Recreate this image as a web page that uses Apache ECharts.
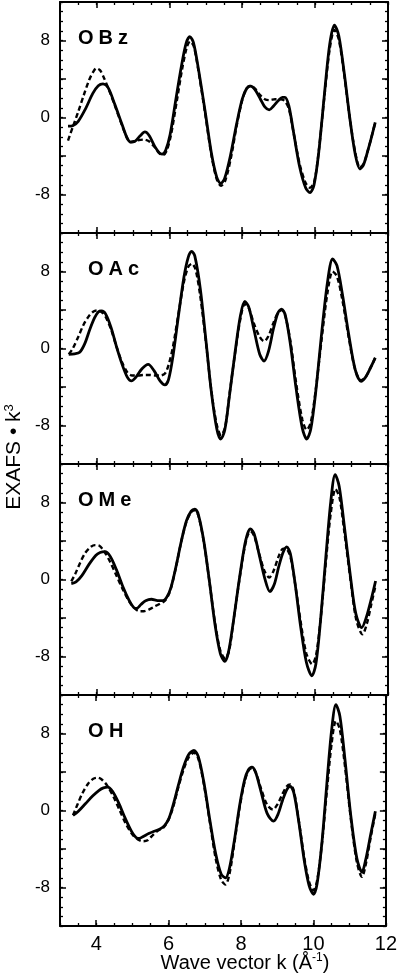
<!DOCTYPE html>
<html>
<head>
<meta charset="utf-8">
<script src="https://cdn.jsdelivr.net/npm/echarts@6.0.0/dist/echarts.min.js"></script>
<style>
html, body { margin: 0; padding: 0; background: #fff; }
#chart { width: 400px; height: 974px; }
</style>
</head>
<body>
<div id="chart"></div>
<script>
// labels of the four panels, top to bottom
const panelNames = ['OBz', 'OAc', 'OMe', 'O H']
const xTickLabels = [4, 6, 8, 10, 12]
const xMajorTicks = [4, 6, 8, 10]
const yTickLabels = [-8, 0, 8]

// [k, EXAFS*k^3]  solid = measured, dashed = fit
const obzExp = [[3.22,-0.9],[3.35,-0.85],[3.5,-0.4],[3.7,0.9],[3.9,2.5],[4.05,3.3],[4.18,3.5],[4.32,3.1],[4.5,1.4],[4.7,-0.7],[4.85,-2.2],[4.94,-2.55],[5.05,-2.5],[5.2,-1.9],[5.33,-1.5],[5.45,-1.9],[5.6,-3.0],[5.72,-3.65],[5.8,-3.8],[5.9,-3.4],[6.02,-1.8],[6.18,1.9],[6.33,5.3],[6.46,7.7],[6.56,8.4],[6.66,7.8],[6.8,5.0],[6.98,0.7],[7.15,-3.6],[7.3,-6.2],[7.41,-6.85],[7.52,-6.3],[7.68,-3.9],[7.85,-0.6],[8.0,1.9],[8.12,3.0],[8.23,3.25],[8.35,2.9],[8.5,1.9],[8.62,1.1],[8.74,0.8],[8.86,1.2],[9.0,1.8],[9.1,2.1],[9.17,2.1],[9.28,1.2],[9.42,-1.8],[9.58,-5.2],[9.74,-7.3],[9.86,-7.8],[9.97,-7.0],[10.1,-3.6],[10.25,2.2],[10.4,7.6],[10.53,9.6],[10.65,8.5],[10.8,4.6],[10.95,0],[11.1,-3.8],[11.23,-5.35],[11.33,-4.9],[11.45,-3.4],[11.55,-2.0],[11.65,-0.5]]
const obzFit = [[3.22,-2.4],[3.35,-1.0],[3.5,0.6],[3.65,2.3],[3.8,3.9],[3.92,4.8],[4.0,5.1],[4.1,4.9],[4.22,4.0],[4.35,2.8],[4.5,1.3],[4.7,-0.8],[4.85,-2.2],[4.94,-2.55],[5.1,-2.4],[5.3,-2.3],[5.45,-2.5],[5.6,-3.1],[5.72,-3.7],[5.82,-3.9],[5.92,-3.5],[6.04,-1.9],[6.2,1.6],[6.35,5.0],[6.48,7.3],[6.57,7.9],[6.67,7.4],[6.8,4.8],[6.98,0.5],[7.15,-3.8],[7.3,-6.4],[7.42,-7.1],[7.54,-6.5],[7.7,-4.0],[7.85,-0.8],[8.0,1.8],[8.12,3.0],[8.23,3.3],[8.35,3.0],[8.5,2.3],[8.62,1.9],[8.74,1.8],[8.9,1.9],[9.05,1.9],[9.17,1.7],[9.28,0.9],[9.42,-1.8],[9.58,-4.9],[9.74,-6.8],[9.86,-7.3],[9.98,-6.6],[10.1,-3.5],[10.25,2.0],[10.4,7.1],[10.53,9.1],[10.65,8.1],[10.8,4.4],[10.95,0],[11.1,-3.6],[11.23,-5.2],[11.33,-4.8],[11.45,-3.4],[11.55,-2.0],[11.65,-0.5]]

const oacExp = [[3.24,-0.6],[3.4,-0.55],[3.54,-0.4],[3.68,0.5],[3.82,2.0],[3.95,3.2],[4.05,3.8],[4.14,3.9],[4.25,3.6],[4.4,2.2],[4.55,0.2],[4.7,-1.6],[4.85,-3.0],[4.96,-3.37],[5.08,-3.0],[5.25,-2.1],[5.42,-1.65],[5.58,-2.3],[5.75,-3.4],[5.88,-3.78],[5.98,-3.2],[6.1,-0.8],[6.25,3.4],[6.4,7.4],[6.52,9.5],[6.61,10.1],[6.7,9.6],[6.85,6.2],[7.0,1.0],[7.15,-4.4],[7.3,-8.3],[7.41,-9.4],[7.52,-8.5],[7.65,-4.9],[7.8,-0.5],[7.95,3.4],[8.07,4.9],[8.18,4.3],[8.32,2.0],[8.48,-0.6],[8.6,-1.3],[8.72,-0.3],[8.86,2.1],[8.98,3.7],[9.08,4.1],[9.18,3.5],[9.32,0.5],[9.48,-4.2],[9.65,-8.3],[9.77,-9.4],[9.88,-8.4],[10.02,-4.4],[10.18,1.6],[10.34,6.9],[10.48,9.3],[10.6,8.6],[10.75,5.6],[10.92,1.5],[11.1,-2.2],[11.26,-3.4],[11.38,-3.0],[11.52,-2.0],[11.65,-0.97]]
const oacFit = [[3.24,-0.6],[3.35,0.0],[3.5,1.2],[3.65,2.5],[3.8,3.4],[3.92,3.85],[4.02,3.95],[4.14,3.8],[4.25,3.3],[4.4,2.0],[4.55,0.2],[4.7,-1.4],[4.85,-2.5],[4.98,-2.8],[5.15,-2.8],[5.3,-2.75],[5.45,-2.75],[5.6,-2.8],[5.75,-2.8],[5.88,-2.6],[5.98,-1.7],[6.1,0.2],[6.25,3.6],[6.4,6.9],[6.52,8.5],[6.62,8.8],[6.72,8.2],[6.85,5.4],[7.0,0.8],[7.15,-4.3],[7.3,-7.9],[7.42,-9.0],[7.53,-8.2],[7.65,-4.8],[7.8,-0.6],[7.95,3.1],[8.07,4.6],[8.18,4.2],[8.32,2.6],[8.48,1.2],[8.6,0.75],[8.72,1.3],[8.86,2.7],[8.98,3.7],[9.08,4.0],[9.18,3.4],[9.32,0.8],[9.48,-3.6],[9.65,-7.4],[9.77,-8.45],[9.88,-7.7],[10.02,-4.2],[10.18,1.0],[10.34,5.8],[10.48,8.0],[10.6,7.5],[10.75,5.0],[10.92,1.2],[11.1,-2.2],[11.26,-3.3],[11.38,-3.0],[11.52,-2.0],[11.65,-0.97]]

const omeExp = [[3.31,-0.42],[3.44,-0.25],[3.6,0.4],[3.8,1.6],[3.98,2.5],[4.1,2.8],[4.23,2.9],[4.38,2.4],[4.55,1.0],[4.72,-0.7],[4.9,-2.2],[5.02,-2.9],[5.1,-3.0],[5.22,-2.6],[5.35,-2.2],[5.51,-2.05],[5.68,-2.2],[5.82,-2.2],[5.92,-1.9],[6.04,-0.9],[6.18,1.3],[6.33,4.0],[6.47,6.1],[6.6,7.1],[6.7,7.3],[6.8,6.7],[6.95,3.9],[7.1,-0.2],[7.25,-4.6],[7.4,-7.7],[7.52,-8.5],[7.62,-7.6],[7.76,-4.3],[7.9,-0.5],[8.05,3.2],[8.15,4.8],[8.23,5.25],[8.33,4.7],[8.47,2.5],[8.62,0.1],[8.76,-1.25],[8.88,-0.5],[9.0,1.3],[9.12,2.8],[9.22,3.4],[9.32,2.7],[9.45,-0.4],[9.6,-4.8],[9.76,-8.6],[9.91,-10.0],[10.02,-8.8],[10.15,-4.2],[10.3,2.6],[10.43,8.1],[10.55,10.9],[10.66,9.7],[10.8,5.6],[10.97,0.3],[11.12,-3.6],[11.28,-5.0],[11.4,-4.0],[11.53,-2.2],[11.66,-0.15]]
const omeFit = [[3.31,-0.2],[3.42,0.6],[3.56,1.8],[3.7,2.8],[3.85,3.4],[3.96,3.57],[4.08,3.5],[4.2,3.0],[4.38,1.8],[4.55,0.4],[4.72,-1.0],[4.9,-2.3],[5.05,-3.0],[5.18,-3.3],[5.3,-3.3],[5.45,-3.1],[5.6,-2.8],[5.75,-2.5],[5.88,-2.2],[5.98,-1.6],[6.08,-0.4],[6.2,1.6],[6.33,4.0],[6.47,6.0],[6.6,7.0],[6.7,7.2],[6.8,6.6],[6.95,3.8],[7.1,-0.2],[7.25,-4.4],[7.4,-7.4],[7.53,-8.2],[7.64,-7.4],[7.76,-4.3],[7.9,-0.6],[8.05,3.0],[8.15,4.6],[8.23,5.0],[8.33,4.5],[8.47,2.6],[8.62,0.8],[8.74,0.2],[8.86,0.9],[9.0,2.4],[9.12,3.2],[9.2,3.2],[9.32,2.4],[9.45,-0.4],[9.6,-4.3],[9.76,-7.7],[9.92,-8.8],[10.03,-7.8],[10.16,-3.8],[10.3,2.0],[10.43,6.9],[10.56,9.4],[10.67,8.5],[10.8,5.0],[10.97,0.0],[11.13,-4.2],[11.3,-5.7],[11.42,-4.6],[11.54,-2.6],[11.66,-0.6]]

const ohExp = [[3.36,-0.5],[3.5,-0.1],[3.7,0.7],[3.9,1.5],[4.08,2.1],[4.2,2.35],[4.32,2.43],[4.45,2.0],[4.62,0.8],[4.8,-0.8],[4.98,-2.2],[5.1,-2.8],[5.19,-2.9],[5.3,-2.7],[5.45,-2.4],[5.6,-2.15],[5.75,-1.95],[5.88,-1.6],[6.0,-0.9],[6.12,0.5],[6.26,2.5],[6.4,4.4],[6.55,5.8],[6.7,6.25],[6.82,5.6],[6.97,3.0],[7.13,-0.8],[7.3,-4.5],[7.45,-6.6],[7.57,-7.0],[7.68,-6.0],[7.82,-3.0],[7.96,0.5],[8.1,3.2],[8.2,4.2],[8.3,4.5],[8.4,4.0],[8.55,2.0],[8.72,-0.3],[8.9,-1.1],[9.02,-0.4],[9.15,1.1],[9.27,2.2],[9.36,2.5],[9.46,1.8],[9.6,-1.3],[9.75,-5.3],[9.88,-7.8],[10.0,-8.7],[10.1,-7.6],[10.23,-3.5],[10.37,2.8],[10.5,8.3],[10.62,11.0],[10.73,9.8],[10.87,5.3],[11.03,-0.5],[11.2,-5.0],[11.34,-6.4],[11.45,-5.0],[11.58,-2.5],[11.71,-0.07]]
const ohFit = [[3.36,-0.5],[3.48,0.6],[3.62,1.8],[3.78,2.8],[3.92,3.3],[4.04,3.4],[4.16,3.2],[4.3,2.6],[4.48,1.4],[4.65,0.0],[4.82,-1.4],[5.0,-2.5],[5.15,-3.0],[5.3,-3.2],[5.42,-3.1],[5.55,-2.6],[5.7,-2.1],[5.85,-1.8],[5.98,-1.1],[6.12,0.3],[6.26,2.3],[6.4,4.1],[6.55,5.5],[6.7,6.0],[6.82,5.4],[6.97,2.8],[7.13,-1.0],[7.3,-5.0],[7.45,-7.2],[7.57,-7.7],[7.68,-6.6],[7.82,-3.3],[7.96,0.3],[8.1,3.0],[8.2,4.1],[8.3,4.4],[8.4,4.0],[8.55,2.3],[8.72,0.6],[8.88,0.1],[9.0,0.6],[9.13,1.6],[9.26,2.5],[9.36,2.7],[9.46,2.0],[9.6,-1.2],[9.75,-5.0],[9.88,-7.4],[10.0,-8.3],[10.1,-7.3],[10.23,-3.6],[10.37,2.0],[10.5,6.9],[10.62,9.3],[10.73,8.4],[10.87,4.6],[11.03,-0.8],[11.2,-5.4],[11.34,-6.9],[11.45,-5.5],[11.58,-2.8],[11.71,-0.3]]

const expData = [obzExp, oacExp, omeExp, ohExp]
const fitData = [obzFit, oacFit, omeFit, ohFit]

const font = 'Liberation Sans, Arial, Helvetica, sans-serif'
const gridTops = [2, 233, 464, 695]
const gridHeight = 231

const chart = echarts.init(document.getElementById('chart'))

const grids = []
const xAxes = []
const yAxes = []
const series = []
const texts = []

// panel label with a little room between the letters
function spaced (name) {
    const chars = name.split('')
    return chars.map((c, j) => {
        const next = chars[j + 1]
        return (c !== ' ' && next && next !== ' ') ? '{g|' + c + '}' : '{n|' + c + '}'
    }).join('')
}

panelNames.forEach((name, i) => {
    grids.push({ left: 60, width: 328, top: gridTops[i], height: gridHeight })
    const xBase = xAxes.length
    const yBase = yAxes.length
    const isLast = i === panelNames.length - 1

    // x axes: small ticks every 0.5, long ticks on even numbers, bottom and top
    ;['bottom', 'top'].forEach(pos => {
        xAxes.push({
            gridIndex: i, type: 'value', position: pos, min: 3, max: 12, interval: 0.5,
            axisLine: { show: true, onZero: false, lineStyle: { color: '#000', width: 2 } },
            axisTick: { inside: true, length: 3, lineStyle: { color: '#000', width: 1.3 } },
            axisLabel: { show: false },
            splitLine: { show: false }
        })
        xAxes.push({
            gridIndex: i, type: 'value', position: pos, min: 3, max: 12,
            axisLine: { show: false, onZero: false },
            axisTick: { inside: true, length: 6, customValues: xMajorTicks, lineStyle: { color: '#000', width: 1.5 } },
            axisLabel: {
                show: isLast && pos === 'bottom', customValues: xTickLabels,
                color: '#000', fontSize: 20, fontFamily: font, margin: 8
            },
            splitLine: { show: false }
        })
    })

    // y axes: small ticks every 1, long ticks every 4, left and right
    ;['left', 'right'].forEach(pos => {
        yAxes.push({
            gridIndex: i, type: 'value', position: pos, min: -12, max: 12, interval: 1,
            axisLine: { show: true, onZero: false, lineStyle: { color: '#000', width: 2 } },
            axisTick: { inside: true, length: 3, lineStyle: { color: '#000', width: 1.3 } },
            axisLabel: { show: false },
            splitLine: { show: false }
        })
        yAxes.push({
            gridIndex: i, type: 'value', position: pos, min: -12, max: 12, interval: 4,
            axisLine: { show: false, onZero: false },
            axisTick: { inside: true, length: 6, lineStyle: { color: '#000', width: 1.5 } },
            axisLabel: {
                show: pos === 'left', customValues: yTickLabels,
                color: '#000', fontSize: 17, fontFamily: font, margin: 10
            },
            splitLine: { show: false }
        })
    })

    // dashed fit first, solid data on top
    series.push({
        type: 'line', xAxisIndex: xBase, yAxisIndex: yBase, data: fitData[i],
        showSymbol: false, smooth: 0.3, silent: true,
        lineStyle: { color: '#000', width: 2.4, type: [5, 3] }
    })
    series.push({
        type: 'line', xAxisIndex: xBase, yAxisIndex: yBase, data: expData[i],
        showSymbol: false, smooth: 0.3, silent: true,
        lineStyle: { color: '#000', width: 2.8 }
    })

    texts.push({
        type: 'text', x: i === 1 || i === 3 ? 88 : 78, y: gridTops[i] + 36,
        style: {
            text: spaced(name), fill: '#000', fontSize: 20, fontWeight: 'bold', fontFamily: font,
            align: 'left', verticalAlign: 'middle',
            rich: {
                g: { fontSize: 20, fontWeight: 'bold', fontFamily: font, padding: [0, 5, 0, 0] },
                n: { fontSize: 20, fontWeight: 'bold', fontFamily: font }
            }
        }
    })
})

// axis titles
texts.push({
    type: 'text', x: 14, y: 457, rotation: Math.PI / 2,
    style: {
        text: 'EXAFS • k{sup|3}', fill: '#000', fontSize: 21, fontFamily: font,
        align: 'center', verticalAlign: 'middle',
        rich: { sup: { fontSize: 13, fontFamily: font, padding: [0, 0, 10, 0] } }
    }
})
texts.push({
    type: 'text', x: 245, y: 963,
    style: {
        text: 'Wave vector k (Å{sup|-1})', fill: '#000', fontSize: 20, fontFamily: font,
        align: 'center', verticalAlign: 'middle',
        rich: { sup: { fontSize: 12, fontFamily: font, padding: [0, 0, 10, 0] } }
    }
})

chart.setOption({
    animation: false,
    backgroundColor: '#fff',
    grid: grids,
    xAxis: xAxes,
    yAxis: yAxes,
    series: series,
    graphic: texts
})
</script>
</body>
</html>
